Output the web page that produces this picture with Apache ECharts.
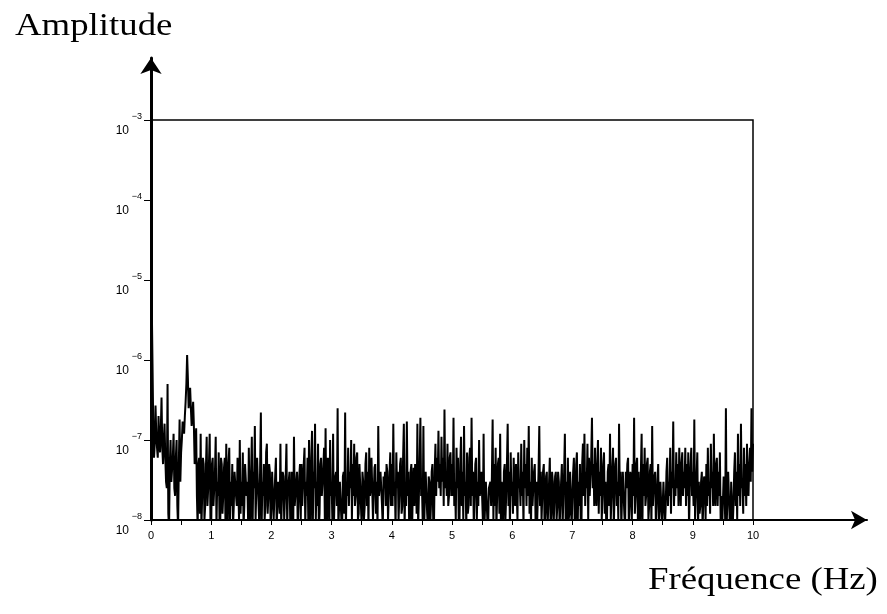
<!DOCTYPE html>
<html><head><meta charset="utf-8">
<script src="https://cdn.jsdelivr.net/npm/echarts@6/dist/echarts.min.js"></script>
<style>html,body{margin:0;padding:0;background:#fff}#c{width:887px;height:614px}</style>
</head><body><div id="c"></div>
<script>
const maxFreq = 10;
const amplitude = [
  // 0 - 0.5 Hz
  1e-3, 5e-6, 9e-7, 1.5e-7, 6e-8, 9e-8, 2.7e-7, 1.2e-7, 8e-8, 6e-8, 2e-7, 1e-7, 7e-8, 1.3e-7, 3.4e-7, 8e-8, 5e-8, 1e-7, 1.6e-7, 6e-8,
  3e-8, 2.5e-8, 5e-7, 1.2e-8, 8e-9, 5e-8, 1e-7, 3e-8, 3e-8, 6e-8, 1.2e-7, 2.5e-8, 2e-8, 6e-8, 1e-7, 1.5e-8, 8e-9, 5e-8, 1.8e-7, 3e-8,
  // 0.5 - 1
  7e-8, 1e-7, 1.7e-7, 1.4e-7, 1.2e-7, 2e-7, 3e-7, 5e-7, 1.15e-6, 6e-7, 2.5e-7, 3.5e-7, 4.5e-7, 2.5e-7, 1.5e-7, 2e-7, 3e-7, 1.5e-7, 5e-8, 8e-8,
  1.4e-7, 2e-8, 8e-9, 5e-8, 6e-8, 1.2e-8, 1.2e-7, 8e-9, 2e-8, 6e-8, 5e-8, 1e-8, 1.5e-8, 4.5e-8, 1.1e-7, 1.5e-8, 2.5e-8, 5e-8, 1.2e-7, 1e-8,
  // 1 - 1.5
  8e-9, 5e-8, 6e-8, 1.5e-8, 1.5e-8, 4e-8, 1.1e-7, 8e-9, 3e-8, 2e-8, 7e-8, 1e-8, 8e-9, 6e-8, 5e-8, 1.2e-8, 2e-8, 4.5e-8, 6e-8, 8e-9,
  9e-8, 2.5e-8, 8e-9, 5e-8, 8e-8, 1e-8, 3e-8, 1.5e-8, 5e-8, 8e-9, 1.5e-8, 4e-8, 4e-8, 2e-8, 1.5e-8, 6e-8, 6e-8, 1e-8, 1e-7, 1.2e-8,
  // 1.5 - 2
  3e-8, 1.5e-8, 7e-8, 8e-9, 1.5e-8, 5e-8, 5e-8, 2e-8, 3e-8, 1e-8, 8e-8, 1.2e-8, 8e-9, 4e-8, 1.1e-7, 8e-9, 4e-8, 2.5e-8, 1.5e-7, 1e-8,
  2.5e-8, 6e-8, 6e-8, 1.5e-8, 8e-9, 4.5e-8, 2.2e-7, 8e-9, 3e-8, 2e-8, 5e-8, 1e-8, 1.5e-8, 7e-8, 9e-8, 1.2e-8, 2e-8, 5e-8, 4e-8, 8e-9,
  // 2 - 2.5
  1.5e-8, 4e-8, 4e-8, 1e-8, 2e-8, 3.5e-8, 6e-8, 8e-9, 8e-9, 3e-8, 3e-8, 1.2e-8, 9e-8, 8e-9, 2e-8, 4e-8, 3.5e-8, 1e-8, 1e-8, 3.5e-8,
  9e-8, 8e-9, 2.5e-8, 3e-8, 4e-8, 1e-8, 8e-9, 4e-8, 3e-8, 8e-9, 1.1e-7, 1.5e-8, 1.5e-8, 3e-8, 4e-8, 8e-9, 8e-9, 3.5e-8, 5e-8, 1e-8,
  // 2.5 - 3
  5e-8, 1.5e-8, 1.5e-8, 5e-8, 8e-8, 8e-9, 3e-8, 2e-8, 6e-8, 1e-8, 1e-7, 1.2e-8, 8e-9, 6e-8, 1.3e-7, 8e-9, 4e-8, 2.5e-8, 1.6e-7, 1e-8,
  3e-8, 1.5e-8, 9e-8, 8e-9, 1.2e-8, 5e-8, 6e-8, 2e-8, 2e-8, 4.5e-8, 8e-8, 1e-8, 1.4e-7, 1.2e-8, 8e-9, 6e-8, 5e-8, 8e-9, 1e-7, 2e-8,
  // 3 - 3.5
  3e-8, 1e-8, 1.2e-7, 8e-9, 2e-8, 3.5e-8, 4e-8, 1.5e-8, 2.5e-7, 8e-9, 1.5e-8, 3e-8, 3e-8, 1e-8, 8e-9, 3.5e-8, 4e-8, 1.2e-8, 2.2e-7, 8e-9,
  3e-8, 2e-8, 8e-8, 1.5e-8, 4e-8, 2.5e-8, 1e-7, 1e-8, 5e-8, 2e-8, 9e-8, 1.5e-8, 2e-8, 6e-8, 7e-8, 1e-8, 1.2e-8, 5e-8, 5e-8, 1.5e-8,
  // 3.5 - 4
  8e-9, 4e-8, 3e-8, 1e-8, 1.5e-8, 5e-8, 7e-8, 1.5e-8, 4e-8, 8e-9, 8e-8, 2e-8, 2.5e-8, 6e-8, 6e-8, 1e-8, 1e-8, 4.5e-8, 5e-8, 1.2e-8,
  3e-8, 8e-9, 1.5e-7, 2e-8, 2e-8, 4e-8, 4e-8, 1.5e-8, 8e-9, 3.5e-8, 2.5e-8, 4e-8, 1.5e-8, 5e-8, 4e-8, 1e-8, 2e-8, 4e-8, 7e-8, 1.5e-8,
  // 4 - 4.5
  5e-8, 1.5e-8, 1.6e-7, 2e-8, 3e-8, 8e-9, 7e-8, 2.5e-8, 4e-8, 1e-8, 2e-8, 5e-8, 6e-8, 1.2e-8, 1.5e-8, 6e-8, 1.6e-7, 8e-9, 3e-8, 1.5e-8,
  1.7e-7, 2e-8, 4e-8, 1e-8, 8e-9, 4e-8, 5e-8, 8e-9, 2.5e-8, 4.5e-8, 1.5e-8, 5e-8, 4e-8, 1.2e-8, 1.6e-7, 8e-9, 2e-8, 5e-8, 1.9e-7, 2e-8,
  // 4.5 - 5
  3e-8, 1e-8, 1.5e-7, 8e-9, 2e-8, 4e-8, 4e-8, 1.2e-8, 8e-9, 3.5e-8, 3e-8, 8e-9, 1.5e-8, 4e-8, 5e-8, 1e-8, 8e-9, 4e-8, 9e-8, 2e-8,
  6e-8, 3e-8, 1.3e-7, 2.5e-8, 5e-8, 2e-8, 1.1e-7, 3e-8, 6e-8, 1.5e-8, 2.4e-7, 2.5e-8, 4e-8, 2e-8, 9e-8, 1.5e-8, 2e-8, 6e-8, 7e-8, 2e-8,
  // 5 - 5.5
  5e-8, 2e-8, 1.9e-7, 1.5e-8, 3e-8, 1e-8, 8e-8, 2.5e-8, 6e-8, 8e-9, 1e-8, 5e-8, 1.1e-7, 1.5e-8, 4e-8, 1e-8, 1.5e-7, 2e-8, 3e-8, 8e-9,
  7e-8, 1.2e-8, 1.5e-8, 6e-8, 8e-8, 1.5e-8, 1.9e-7, 2e-8, 4e-8, 8e-9, 8e-9, 5e-8, 6e-8, 1e-8, 3e-8, 1.5e-8, 1e-7, 2e-8, 2e-8, 4e-8,
  // 5.5 - 6
  4e-8, 1e-8, 1.2e-7, 8e-9, 1.5e-8, 3e-8, 3e-8, 1e-8, 8e-9, 2.5e-8, 2.5e-8, 3e-8, 1.5e-8, 3.5e-8, 1.8e-7, 1e-8, 5e-8, 1.5e-8, 8e-8, 8e-9,
  8e-9, 5e-8, 6e-8, 1.2e-8, 1.2e-7, 8e-9, 3e-8, 2e-8, 8e-9, 4e-8, 5e-8, 1e-8, 2e-8, 5e-8, 1.6e-7, 1.5e-8, 4e-8, 8e-9, 7e-8, 2e-8,
  // 6 - 6.5
  3e-8, 1.2e-8, 6e-8, 2e-8, 1.5e-8, 5e-8, 5e-8, 1e-8, 7e-8, 2.5e-8, 3e-8, 1.5e-8, 9e-8, 2e-8, 4e-8, 8e-9, 1e-7, 2.5e-8, 5e-8, 1.5e-8,
  8e-8, 2e-8, 1.5e-7, 1.2e-8, 3e-8, 8e-9, 6e-8, 1.5e-8, 1.5e-8, 4e-8, 5e-8, 1e-8, 3e-8, 8e-9, 8e-9, 4e-8, 1.5e-7, 1.5e-8, 4e-8, 1e-8,
  // 6.5 - 7
  2e-8, 4e-8, 5e-8, 8e-9, 1.2e-8, 3.5e-8, 4e-8, 8e-9, 8e-9, 3e-8, 6e-8, 8e-9, 1.2e-8, 4e-8, 3e-8, 8e-9, 8e-9, 3.5e-8, 4e-8, 1e-8,
  1.5e-8, 4e-8, 3e-8, 8e-9, 8e-9, 3e-8, 5e-8, 8e-9, 2e-8, 4e-8, 1.2e-7, 1e-8, 3e-8, 8e-9, 6e-8, 1e-8, 1.2e-8, 4e-8, 4e-8, 8e-9,
  // 7 - 7.5
  2e-8, 4e-8, 6e-8, 1e-8, 8e-9, 5e-8, 7e-8, 8e-9, 3e-8, 1.5e-8, 5e-8, 1e-8, 8e-9, 5e-8, 9e-8, 2e-8, 1.2e-7, 1.5e-8, 4e-8, 2.5e-8,
  9e-8, 1e-8, 6e-8, 2e-8, 2e-8, 6e-8, 1.9e-7, 2.5e-8, 5e-8, 1.5e-8, 8e-8, 2e-8, 1.5e-8, 5e-8, 1e-7, 1.2e-8, 4e-8, 2e-8, 8e-8, 1e-8,
  // 7.5 - 8
  2e-8, 5e-8, 7e-8, 1.2e-8, 3e-8, 8e-9, 1e-8, 4e-8, 5e-8, 1.5e-8, 1.2e-7, 1e-8, 2e-8, 4.5e-8, 8e-8, 8e-9, 8e-9, 5e-8, 6e-8, 1.5e-8,
  3e-8, 1e-8, 1.6e-7, 2e-8, 4e-8, 8e-9, 2e-8, 4e-8, 4e-8, 1.2e-8, 8e-9, 4e-8, 2.5e-8, 5e-8, 6e-8, 8e-9, 1.5e-8, 4e-8, 3e-8, 1e-8,
  // 8 - 8.5
  5e-8, 2e-8, 1.9e-7, 1.2e-8, 2e-8, 5e-8, 6e-8, 1e-8, 4e-8, 1.5e-8, 8e-9, 4e-8, 1.2e-7, 8e-9, 5e-8, 2e-8, 8e-8, 1.5e-8, 2e-8, 5e-8,
  6e-8, 1e-8, 1.5e-8, 4e-8, 5e-8, 8e-9, 1.5e-7, 1.5e-8, 2.5e-8, 3.5e-8, 4e-8, 8e-9, 8e-9, 3e-8, 5e-8, 1e-8, 1.5e-8, 3e-8, 3e-8, 8e-9,
  // 8.5 - 9
  8e-9, 3e-8, 3e-8, 8e-9, 1.5e-8, 4e-8, 6e-8, 1.5e-8, 3e-8, 2e-8, 8e-8, 1.2e-8, 4e-8, 2.5e-8, 1.7e-7, 1.5e-8, 3e-8, 2e-8, 7e-8, 2.5e-8,
  5e-8, 1.5e-8, 8e-8, 3e-8, 1.5e-8, 5e-8, 7e-8, 2e-8, 4e-8, 2.5e-8, 8e-8, 1.5e-8, 5e-8, 2e-8, 7e-8, 8e-9, 2.5e-8, 5e-8, 8e-8, 2e-8,
  // 9 - 9.5
  4e-8, 1.5e-8, 1.8e-7, 1e-8, 2e-8, 3.5e-8, 7e-8, 8e-9, 3e-8, 1.2e-8, 1.5e-8, 3e-8, 4e-8, 8e-9, 8e-9, 3.5e-8, 3e-8, 1e-8, 5e-8, 1.5e-8,
  8e-8, 2e-8, 3e-8, 1.2e-8, 9e-8, 2.5e-8, 4e-8, 1.5e-8, 1.2e-7, 2e-8, 1.5e-8, 5e-8, 6e-8, 1.5e-8, 4e-8, 2e-8, 7e-8, 1e-8, 2e-8, 8e-9,
  // 9.5 - 10
  8e-9, 3.5e-8, 3e-8, 1e-8, 2.5e-7, 8e-9, 2e-8, 4e-8, 4e-8, 1e-8, 8e-9, 3e-8, 3e-8, 8e-9, 1.5e-8, 4e-8, 7e-8, 1.5e-8, 4e-8, 1e-8,
  1.2e-7, 2e-8, 5e-8, 1.5e-8, 1.6e-7, 2.5e-8, 3e-8, 1.2e-8, 8e-8, 2e-8, 5e-8, 1.5e-8, 9e-8, 2.5e-8, 2e-8, 5e-8, 8e-8, 3e-8, 2.5e-7, 4e-8, 9e-8
];
const xTickLabels = ['0','1','2','3','4','5','6','7','8','9','10'];
const yExponentLabels = ['\u22128','\u22127','\u22126','\u22125','\u22124','\u22123'];
const yTitle = 'Amplitude';
const xTitle = 'Fréquence (Hz)';

const freqStep = maxFreq / (amplitude.length - 1);
const points = amplitude.map((v, i) => [i * freqStep, v]);

const chart = echarts.init(document.getElementById('c'), null, {renderer: 'canvas'});
chart.setOption({
  animation: false,
  backgroundColor: '#fff',
  grid: [
    {left: 151, right: 134, top: 120, bottom: 94, show: true, borderColor: '#000', borderWidth: 1.5, backgroundColor: 'transparent', containLabel: false},
    {left: 151, right: 20, top: 58, bottom: 94, show: false, containLabel: false}
  ],
  xAxis: [
    {
      type: 'value', gridIndex: 0, min: 0, max: 10, interval: 1,
      axisLine: {show: false},
      axisTick: {show: true, inside: false, length: 5, lineStyle: {color: '#000', width: 1}},
      minorTick: {show: true, splitNumber: 2, length: 5, lineStyle: {color: '#000', width: 1}},
      splitLine: {show: false},
      axisLabel: {
        margin: 10, color: '#000', fontFamily: 'Liberation Sans', fontSize: 11,
        formatter: (v, i) => xTickLabels[i]
      }
    },
    {
      type: 'value', gridIndex: 1, min: 0, max: 1,
      axisLine: {show: true, onZero: false, symbol: ['none', 'arrow'], symbolSize: [14, 16], lineStyle: {color: '#000', width: 2}},
      axisTick: {show: false}, axisLabel: {show: false}, splitLine: {show: false}
    }
  ],
  yAxis: [
    {
      type: 'log', logBase: 10, gridIndex: 0, min: 1e-8, max: 1e-3,
      axisLine: {show: false},
      axisTick: {show: true, length: 7, lineStyle: {color: '#000', width: 1}},
      splitLine: {show: false},
      minorTick: {show: false},
      axisLabel: {
        margin: 9, color: '#000', align: 'right', verticalAlign: 'middle',
        padding: [8, 0, 0, 0],
        formatter: (v, i) => '{s|' + yExponentLabels[i] + '}\n{b|10}',
        rich: {
          s: {fontFamily: 'Liberation Sans', fontSize: 9, lineHeight: 14, color: '#000', align: 'right'},
          b: {fontFamily: 'Liberation Sans', fontSize: 12, lineHeight: 15, color: '#000', align: 'right', padding: [0, 13, 0, 0]}
        }
      }
    },
    {
      type: 'value', gridIndex: 1, min: 0, max: 1,
      axisLine: {show: true, onZero: false, symbol: ['none', 'arrow'], symbolSize: [16, 16], lineStyle: {color: '#000', width: 3}},
      axisTick: {show: false}, axisLabel: {show: false}, splitLine: {show: false}
    }
  ],
  graphic: [
    {type: 'text', x: 15, y: 27, scaleX: 1.15, style: {text: yTitle, font: '32px "Liberation Serif"', fill: '#000', verticalAlign: 'middle', align: 'left'}},
    {type: 'text', x: 648, y: 581, scaleX: 1.15, style: {text: xTitle, font: '32px "Liberation Serif"', fill: '#000', verticalAlign: 'middle', align: 'left'}}
  ],
  series: [{
    type: 'line', xAxisIndex: 0, yAxisIndex: 0, data: points,
    showSymbol: false, symbol: 'none', clip: true,
    lineStyle: {color: '#000', width: 2},
    z: 3
  }]
});
</script>
</body></html>
